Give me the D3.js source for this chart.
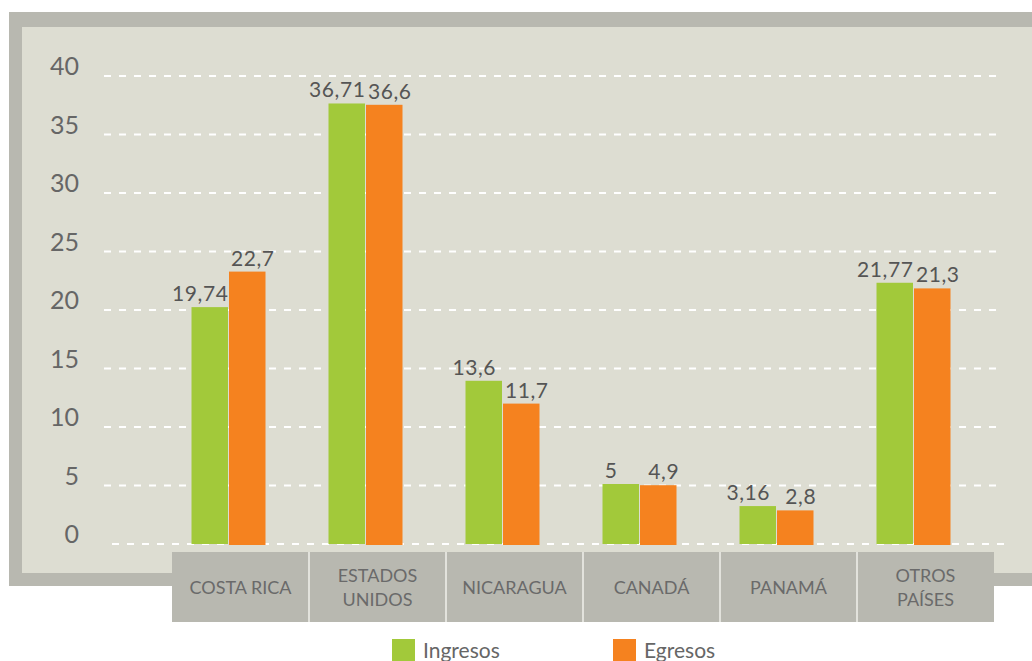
<!DOCTYPE html>
<html>
<head>
<meta charset="utf-8">
<script src="https://cdn.jsdelivr.net/npm/d3@7"></script>
<style>
  body { margin: 0; background: #fff; }
  svg text { font-family: Lato, "Noto Sans", sans-serif; }
</style>
</head>
<body>
<div id="chartRegion"></div>
<script>
/* data */
var categories = ["COSTA RICA", "ESTADOS UNIDOS", "NICARAGUA", "CANADÁ", "PANAMÁ", "OTROS PAÍSES"];
var catLines = [["COSTA RICA"], ["ESTADOS", "UNIDOS"], ["NICARAGUA"], ["CANADÁ"], ["PANAMÁ"], ["OTROS", "PAÍSES"]];
var ingresos = [19.74, 36.71, 13.6, 5, 3.16, 21.77];
var egresos = [22.7, 36.6, 11.7, 4.9, 2.8, 21.3];
var yTicks = [0, 5, 10, 15, 20, 25, 30, 35, 40];
var seriesNames = ["Ingresos", "Egresos"];
var seriesColors = ["#a2c93a", "#f5821f"];

function fmt(v) { return String(v).replace(".", ","); }

function plotChart() {
	d3.select("#chartRegion").select("svg").remove();
	var W = 1032, H = 661;
	var svg = d3.select("#chartRegion").append("svg").attr("width", W).attr("height", H);

	/* frame and panel */
	svg.append("rect").attr("x", 9).attr("y", 12).attr("width", W).attr("height", 574).attr("fill", "#b8b8b0");
	svg.append("rect").attr("x", 22).attr("y", 27).attr("width", W).attr("height", 546).attr("fill", "#ddddd2");

	// grid scale and bar scale are not quite the same in the original
	var yGrid = d3.scaleLinear().domain([0, 40]).range([544, 76]);
	var y = d3.scaleLinear().domain([0, 40]).range([544, 64]);
	var x = d3.scaleBand().domain(categories).range([172, 994]);
	var barW = 36.5;
	function groupCenter(c) { return x(c) + x.bandwidth() / 2 - 12; }

	/* gridlines */
	svg.append("g").selectAll("line").data(yTicks).join("line")
		.attr("x1", function(d) { return d === 0 ? 112 : 104; })
		.attr("x2", function(d) { return d === 0 ? 1008 : 1001; })
		.attr("y1", function(d) { return yGrid(d); })
		.attr("y2", function(d) { return yGrid(d); })
		.attr("stroke", "#fff").attr("stroke-width", 2).attr("stroke-dasharray", "7,8");

	svg.append("g").selectAll("text").data(yTicks).join("text")
		.attr("x", 79).attr("y", function(d) { return yGrid(d) - 1; })
		.attr("text-anchor", "end").attr("font-size", 25).attr("fill", "#666")
		.text(function(d) { return d; });

	/* category boxes */
	svg.append("rect").attr("x", x.range()[0]).attr("y", 552).attr("width", x.range()[1] - x.range()[0]).attr("height", 70).attr("fill", "#b8b8b0");
	svg.append("g").selectAll("line").data(categories.slice(1)).join("line")
		.attr("x1", function(d) { return x(d); }).attr("x2", function(d) { return x(d); })
		.attr("y1", 552).attr("y2", 622)
		.attr("stroke", "#e2e2dc").attr("stroke-width", 2);

	var catG = svg.append("g").selectAll("text").data(categories).join("text")
		.attr("text-anchor", "middle").attr("font-size", 18).attr("fill", "#6a6a6a");
	catG.each(function(c, i) {
		var lines = catLines[i];
		var t = d3.select(this);
		var y0 = lines.length === 1 ? 594 : 582;
		lines.forEach(function(l, j) {
			t.append("tspan").attr("x", x(c) + x.bandwidth() / 2).attr("y", y0 + j * 24).text(l);
		});
	});

	/* bars */
	var series = [ingresos, egresos];
	series.forEach(function(vals, s) {
		var g = svg.append("g");
		g.selectAll("rect").data(categories).join("rect")
			.attr("x", function(c) { return s === 0 ? groupCenter(c) - barW - 0.5 : groupCenter(c) + 0.5; })
			.attr("y", function(c, i) { return y(vals[i]); })
			.attr("width", barW)
			.attr("height", function(c, i) { return y(0) - y(vals[i]) + (s === 1 ? 1 : 0); })
			.attr("fill", seriesColors[s]);
		g.selectAll("text").data(categories).join("text")
			.attr("x", function(c) { return s === 0 ? groupCenter(c) - barW / 2 - 10 : groupCenter(c) + barW / 2 + 6; })
			.attr("y", function(c, i) { return y(vals[i]) - 6; })
			.attr("text-anchor", "middle").attr("font-size", 21).attr("letter-spacing", 0.6).attr("fill", "#555")
			.text(function(c, i) { return fmt(vals[i]); });
	});

	/* legend */
	var legX = [392, 613];
	var leg = svg.append("g").selectAll("g").data(seriesNames).join("g")
		.attr("transform", function(d, i) { return "translate(" + legX[i] + ",639)"; });
	leg.append("rect").attr("width", 23).attr("height", 23).attr("fill", function(d, i) { return seriesColors[i]; });
	leg.append("text").attr("x", 31).attr("y", 19).attr("font-size", 21).attr("fill", "#666").text(function(d) { return d; });
}

plotChart();
</script>
</body>
</html>
